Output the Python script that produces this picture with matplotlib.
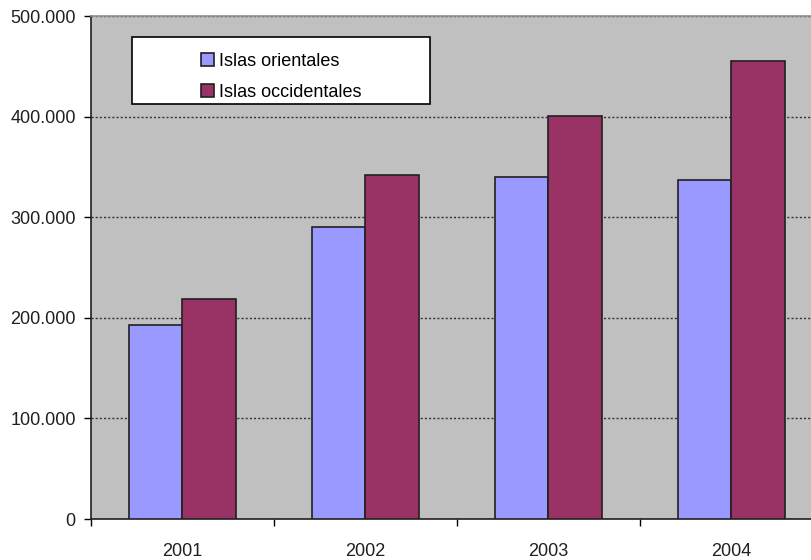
import numpy as np
import matplotlib.pyplot as plt
from matplotlib.patches import Rectangle

# datos por año (en unidades)
years = ['2001', '2002', '2003', '2004']
orientales = [193000, 290000, 340000, 337000]
occidentales = [219000, 342000, 401000, 455000]
yticks = [0, 100000, 200000, 300000, 400000, 500000]
ylabels = ['0', '100.000', '200.000', '300.000', '400.000', '500.000']

plt.rcParams['font.family'] = ['Liberation Sans', 'DejaVu Sans']

fig = plt.figure(figsize=(8.12, 5.6), dpi=100)
ax = fig.add_axes([0.112, 0.0732, 0.9015, 0.8982])
ax.set_facecolor('#C0C0C0')

x = np.arange(len(years))
w = 0.29
ax.bar(x - w / 2, orientales, w, color='#9999FF', edgecolor='#202020', linewidth=1.2,
       label='Islas orientales', zorder=3)
ax.bar(x + w / 2, occidentales, w, color='#993366', edgecolor='#202020', linewidth=1.2,
       label='Islas occidentales', zorder=3)

ax.set_xlim(-0.5, 3.5)
ax.set_ylim(0, 500000)
ax.set_yticks(yticks)
ax.set_yticklabels(ylabels, fontsize=13, color='#202020')
ax.yaxis.grid(True, color='#333333', linestyle=(0, (1.5, 1.5)), linewidth=1, zorder=1)

# marcas entre categorias, etiquetas en el centro
ax.set_xticks(np.arange(-0.5, 4, 1))
ax.set_xticklabels([])
ax.set_xticks(x, minor=True)
ax.set_xticklabels(years, minor=True, fontsize=13, color='#202020')
ax.tick_params(axis='x', which='minor', length=0, pad=17)
ax.tick_params(axis='x', which='major', length=5, width=1, direction='out')
ax.tick_params(axis='y', length=5, width=1, direction='out', pad=6)

for s in ['left', 'bottom']:
    ax.spines[s].set_color('#202020')
    ax.spines[s].set_linewidth(1.2)
ax.spines['top'].set_color('#909090')
ax.spines['top'].set_linewidth(1.2)
ax.spines['right'].set_visible(False)

# cuadro de la leyenda
ax.add_patch(Rectangle((0.056, 0.825), 0.407, 0.133, transform=ax.transAxes,
                       facecolor='white', edgecolor='black', linewidth=1.2, zorder=4))
ax.legend(loc='upper left', bbox_to_anchor=(0.1434, 0.937), frameon=False,
          fontsize=13, handlelength=0.7, handleheight=0.7, handletextpad=0.3,
          labelspacing=0.75, borderaxespad=0, borderpad=0.3).set_zorder(5)

fig.savefig('out.png', dpi=100)
